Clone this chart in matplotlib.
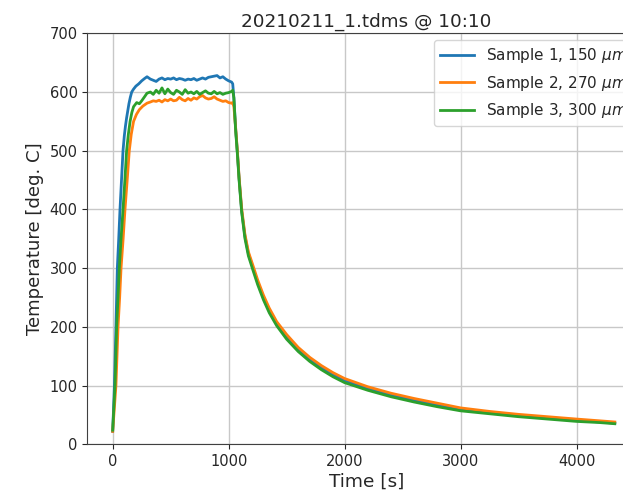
import numpy as np
import matplotlib
matplotlib.use("Agg")
import matplotlib.pyplot as plt

# ---- data ----
t_heat_1 = [0, 15, 28, 40, 52, 63, 76, 89, 100, 110, 120, 130, 140, 152, 164, 180, 200, 225, 250, 275, 296]
s1_heat = [22, 100, 200, 300, 350, 400, 450, 500, 525, 542, 556, 568, 580, 591, 600, 605, 610, 614, 619, 623, 626]

t_heat_2 = [0, 28, 46, 60, 72, 90, 106, 125, 143, 160, 180, 205, 230, 260, 296]
s2_heat = [22, 100, 200, 250, 300, 350, 400, 450, 500, 528, 550, 562, 570, 576, 581]

t_heat_3 = [0, 20, 34, 46, 57, 72, 89, 105, 120, 135, 150, 165, 180, 207, 230, 250, 275, 296]
s3_heat = [24, 100, 200, 250, 300, 350, 400, 450, 500, 528, 550, 565, 575, 582, 580, 585, 592, 598]

t_plat = [325, 350, 375, 400, 425, 450, 475, 500, 525, 550, 575, 600, 625, 650, 675,
          700, 725, 750, 775, 800, 825, 850, 875, 900, 925, 950, 975, 1000, 1025, 1035]
s1_plat = [622, 620, 618, 622, 624, 621, 623, 622, 624, 621, 623, 622, 620, 622, 621,
           623, 620, 622, 624, 622, 625, 626, 627, 628, 624, 626, 622, 619, 617, 614]
s2_plat = [583, 585, 584, 586, 583, 587, 585, 588, 585, 586, 591, 587, 585, 589, 586,
           590, 588, 592, 594, 590, 588, 589, 592, 588, 586, 584, 585, 582, 581, 582]
s3_plat = [600, 596, 603, 598, 607, 597, 605, 599, 596, 603, 600, 596, 604, 598, 600,
           597, 601, 596, 599, 602, 598, 597, 601, 597, 599, 596, 598, 599, 601, 603]

t_cool = [1045, 1060, 1075, 1090, 1112, 1140, 1170, 1212, 1250, 1300, 1350, 1414, 1500,
          1600, 1700, 1800, 1900, 2000, 2200, 2400, 2600, 2800, 3000, 3250, 3500, 3750,
          4000, 4200, 4330]
s1_cool = [590, 538, 498, 453, 398, 355, 325, 299, 276, 250, 228, 206, 183,
           162, 145, 131, 119, 109, 95, 84, 75, 67, 60, 54, 49, 45,
           41, 38, 36]
s2_cool = [575, 540, 500, 455, 402, 358, 328, 303, 280, 254, 232, 209, 187,
           165, 148, 134, 122, 112, 98, 87, 78, 70, 62, 56, 51, 47,
           43, 40, 38]
s3_cool = [590, 535, 495, 450, 396, 351, 321, 295, 272, 246, 224, 202, 179,
           158, 141, 127, 115, 105, 92, 81, 72, 64, 57, 52, 47, 43,
           39, 37, 35]

labels = ['Sample 1, 150 $\\mu m$', 'Sample 2, 270 $\\mu m$', 'Sample 3, 300 $\\mu m$']
title = '20210211_1.tdms @ 10:10'
xlabel = 'Time [s]'
ylabel = 'Temperature [deg. C]'

t1 = t_heat_1 + t_plat + t_cool
t2 = t_heat_2 + t_plat + t_cool
t3 = t_heat_3 + t_plat + t_cool
y1 = s1_heat + s1_plat + s1_cool
y2 = s2_heat + s2_plat + s2_cool
y3 = s3_heat + s3_plat + s3_cool

plt.rcParams['text.color'] = '#262626'
plt.rcParams['axes.labelcolor'] = '#262626'
plt.rcParams['xtick.color'] = '#262626'
plt.rcParams['ytick.color'] = '#262626'

fig = plt.figure(figsize=(6.23, 4.96), dpi=100)
W, H = 623, 496
left_px, right_px, top_px, bot_px = 87.3, 646, 33.3, 444.3
ax = fig.add_axes([left_px / W, 1 - bot_px / H, (right_px - left_px) / W, (bot_px - top_px) / H])

ax.plot(t1, y1, color='tab:blue', lw=2, label=labels[0])
ax.plot(t2, y2, color='tab:orange', lw=2, label=labels[1])
ax.plot(t3, y3, color='tab:green', lw=2, label=labels[2])

ax.set_xlim(-219, 4599)
ax.set_ylim(0, 700)
ax.set_xticks([0, 1000, 2000, 3000, 4000])
ax.set_yticks([0, 100, 200, 300, 400, 500, 600, 700])
ax.tick_params(labelsize=10.5)
ax.grid(True, color='#c8c8c8', lw=1)
for s in ax.spines.values():
    s.set_color('#404040')
ax.set_title(title, fontsize=13.2, pad=5)
ax.set_xlabel(xlabel, fontsize=13.3, labelpad=3)
ax.set_ylabel(ylabel, fontsize=13.1)
ax.legend(loc='upper left', bbox_to_anchor=(434 / W, 1 - 40 / H),
          bbox_transform=fig.transFigure, borderaxespad=0, fontsize=11,
          labelspacing=0.55, handlelength=2.2)

fig.savefig('out.png', dpi=100)
